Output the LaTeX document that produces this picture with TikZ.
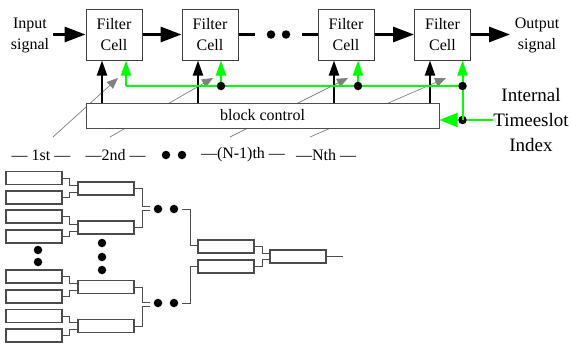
\documentclass[tikz,border=0pt]{standalone}
\usepackage{fontspec}
\setmainfont{Liberation Serif}
\usetikzlibrary{arrows.meta,backgrounds}

\begin{document}
\begin{tikzpicture}[
    x=1pt, y=-1pt,
    every node/.style={font=\fontsize{16}{21}\selectfont},
    cellbox/.style={draw=black!75, line width=1pt, fill=white, minimum width=56pt,
        minimum height=51pt, align=center, inner sep=0pt},
    ctrlbox/.style={draw=black!70, line width=1pt, fill=white, minimum width=353pt,
        minimum height=25pt, inner sep=0pt},
    leafbox/.style={draw=black!70, line width=1.2pt, minimum width=56pt,
        minimum height=13pt, inner sep=0pt},
    bigdot/.style={circle, fill=black, inner sep=0pt, minimum size=8.5pt},
    mainarrow/.style={line width=3pt, -{Triangle[length=21pt,width=15pt]}},
    mainline/.style={line width=3pt},
    ctrlup/.style={line width=2pt, -{Triangle[length=15pt,width=10pt]}},
    greenup/.style={green, line width=2pt, -{Triangle[length=15pt,width=10pt]}},
    greenleft/.style={green, line width=2pt, -{Triangle[length=18pt,width=14pt]}},
    greenline/.style={green, line width=2pt},
    grayarrow/.style={gray, line width=0.7pt, -{Triangle[length=11pt,width=9pt]}},
    wire/.style={black!70, line width=1pt}
]
\useasboundingbox (0,0) rectangle (572,343);

% Filter chain
\node[align=center] (inp) at (30,35) {Input\\signal};
\node[cellbox] (cell1) at (114,34.5) {Filter\\Cell};
\node[cellbox] (cell2) at (210,34.5) {Filter\\Cell};
\node[cellbox] (cell3) at (346,34.5) {Filter\\Cell};
\node[cellbox] (cell4) at (442.5,34.5) {Filter\\Cell};
\node[align=center] (outp) at (537,35) {Output\\signal};

\coordinate (inpend) at (53,34.5);
\coordinate (outend) at (510,34.5);
\draw[mainarrow] (inpend) -- (cell1.west);
\draw[mainarrow] (cell1.east) -- (cell2.west);
\draw[mainarrow] (cell3.east) -- (cell4.west);
\draw[mainarrow] (cell4.east) -- (outend);

% Skipped cells
\coordinate (chA) at (255,34.5);
\coordinate (chB) at (302,34.5);
\node[bigdot] (cd1) at (271,34.5) {};
\node[bigdot] (cd2) at (286,34.5) {};
\draw[mainline] (cell2.east) -- (chA);
\draw[mainline] (chB) -- (cell3.west);

% Block control
\node[ctrlbox] (blk) at (262.5,115.5) {block control};

% Slot selectors (behind the block)
\begin{scope}[on background layer]
\foreach \i/\s/\t in {1/53/118, 2/110/213, 3/230/348, 4/310/446} {
    \coordinate (gs\i) at (\s,137);
    \coordinate (gt\i) at (\t,78);
    \draw[grayarrow] (gs\i) -- (gt\i);
}
\end{scope}

% Control and timeslot inputs of each cell
\coordinate (gbus) at (0,86);
\foreach \c/\dx/\gx in {1/-12/12, 2/-12/11, 3/-12/12, 4/-12.5/20} {
    \coordinate (bk\c) at ([xshift=\dx pt]cell\c.south);
    \coordinate (gr\c) at ([xshift=\gx pt]cell\c.south);
    \draw[ctrlup] (bk\c |- blk.north) -- (bk\c);
}
\node[bigdot] (tdot) at (462.5,120) {};
\node[align=center, inner sep=0pt, font=\fontsize{19}{25}\selectfont] (idx) at (531,120)
    {Internal\\Timeeslot\\Index};
\draw[greenline] (gr1 |- gbus) -- (gr4 |- gbus) -- (tdot.center);
\foreach \c in {1,2,3,4} {
    \draw[greenup] (gr\c |- gbus) -- (gr\c);
}
\foreach \c in {2,3,4} {
    \node[bigdot] at (gr\c |- gbus) {};
}
\draw[greenline] (tdot) -- (idx.west);
\draw[greenleft] (tdot) -- (blk.east |- tdot);

% Slot labels
\node (lab1) at (41,155) {— 1st —};
\node (lab2) at (115.5,155) {—2nd —};
\node[bigdot] (sd1) at (166,155) {};
\node[bigdot] (sd2) at (182,155) {};
\node (lab3) at (243,155) {—(N-1)th —};
\node (lab4) at (326,155) {—Nth —};

% Tree of blocks
\foreach \i/\y in {1/178, 2/197.5, 3/216.5, 4/236.5, 5/276.5, 6/296.5, 7/316, 8/335.5} {
    \node[leafbox] (l\i) at (34,\y) {};
}
\foreach \i/\y in {1/188.5, 2/227.5, 3/287, 4/326} {
    \node[leafbox] (m\i) at (106,\y) {};
}
\node[leafbox] (f1) at (226,246.5) {};
\node[leafbox] (f2) at (226,266.5) {};
\node[leafbox] (root) at (298,256.5) {};

% Skipped blocks
\node[bigdot] at (38,250) {};
\node[bigdot] at (38,262) {};
\foreach \y in {243,257,270} {
    \node[bigdot] at (102,\y) {};
}
\node[bigdot] (ud1) at (158,209) {};
\node[bigdot] (ud2) at (174,209) {};
\node[bigdot] (ld1) at (158,303) {};
\node[bigdot] (ld2) at (174,303) {};

% Wires
\foreach \a/\b/\m in {l1/l2/m1, l3/l4/m2, l5/l6/m3, l7/l8/m4} {
    \draw[wire] (\a.east) -- ++(7,0) |- ([yshift=3.5pt]\m.west);
    \draw[wire] (\b.east) -- ++(7,0) |- ([yshift=-3.5pt]\m.west);
}
\draw[wire, shorten >=4pt] (m1.east) -- ++(8,0) |- ([yshift=3pt]ud1.west);
\draw[wire, shorten >=4pt] (m2.east) -- ++(8,0) |- ([yshift=-1pt]ud1.west);
\draw[wire, shorten >=4pt] (m3.east) -- ++(8,0) |- ([yshift=1pt]ld1.west);
\draw[wire, shorten >=4pt] (m4.east) -- ++(8,0) |- ([yshift=-3pt]ld1.west);
\draw[wire, shorten <=4pt] (ud2.east) -- ++(12,0) |- ([yshift=1.5pt]f1.west);
\draw[wire, shorten <=4pt] (ld2.east) -- ++(12,0) |- ([yshift=0.5pt]f2.west);
\draw[wire] (f1.east) -- ++(8,0) |- ([yshift=3.5pt]root.west);
\draw[wire] (f2.east) -- ++(8,0) |- ([yshift=-3pt]root.west);
\draw[wire] (root.east) -- ++(16,0);

\end{tikzpicture}
\end{document}
